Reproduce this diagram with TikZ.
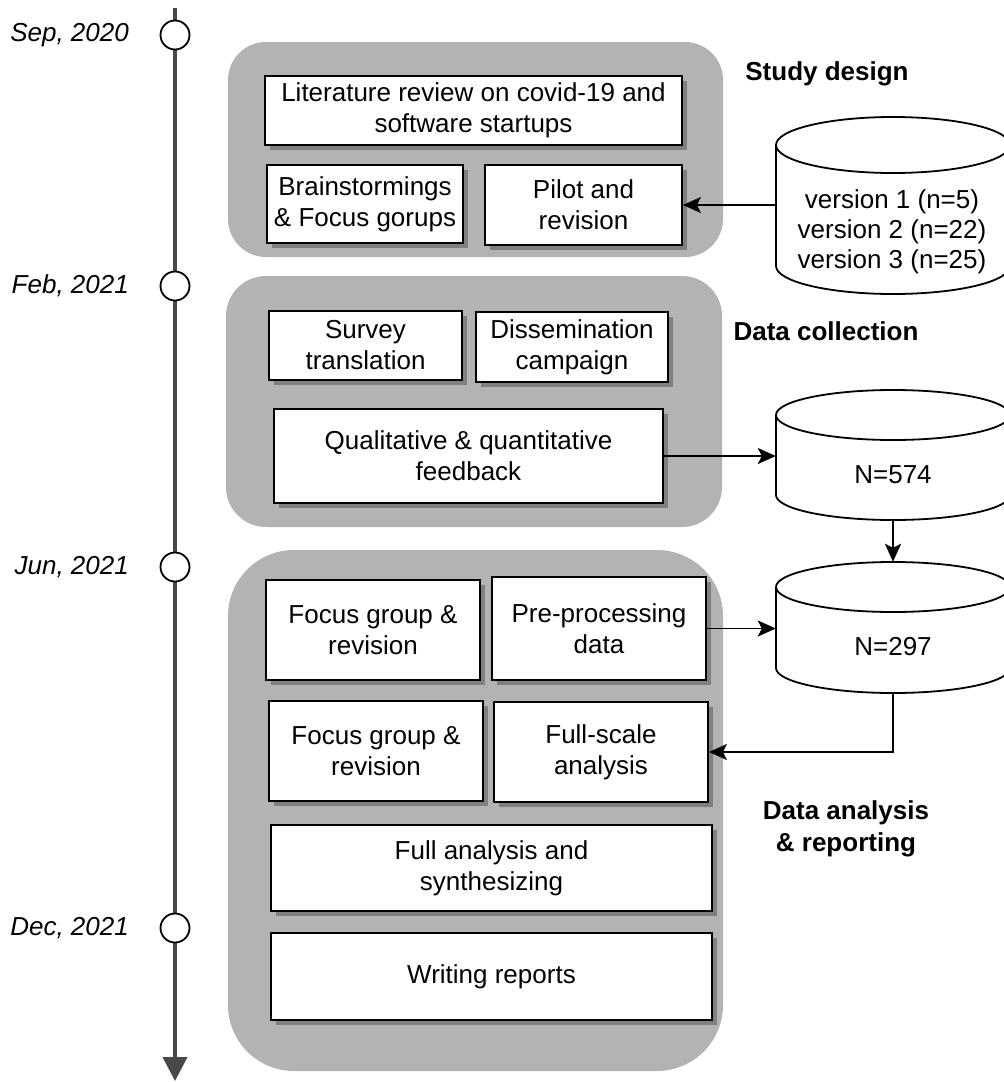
\documentclass[tikz,border=0pt]{standalone}
\usepackage{fontspec}
\setmainfont{Liberation Sans}
\usetikzlibrary{shadows,arrows.meta,calc}
\definecolor{grp}{RGB}{179,179,179}
\definecolor{shd}{RGB}{128,128,128}
\definecolor{tlc}{RGB}{72,72,72}
\newcommand{\mycyl}[6]{% name, cx, ty, by, rx, ry
  \filldraw[cylline] (#2,#4) ellipse [x radius=#5, y radius=#6];
  \fill[white] ({#2-#5},#3) rectangle ({#2+#5},#4);
  \draw[cylline] ({#2-#5},#3) -- ({#2-#5},#4);
  \draw[cylline] ({#2+#5},#3) -- ({#2+#5},#4);
  \filldraw[cylline] (#2,#3) ellipse [x radius=#5, y radius=#6];
  \node[inner sep=0pt, minimum width={2*#5*1pt}, minimum height={(#4-#3+2*#6)*1pt}] (#1) at (#2,{(#3+#4)/2}) {};
}
\begin{document}
\begin{tikzpicture}[x=1pt,y=-1pt,
  box/.style={draw=black, line width=1.8pt, fill=white, align=center, inner sep=2pt,
    font=\fontsize{26}{31}\selectfont,
    drop shadow={shadow xshift=5pt, shadow yshift=-5pt, fill=shd, opacity=1}},
  arr/.style={line width=1.8pt, -{Stealth[length=18pt,width=16pt,inset=4pt]}},
  datelbl/.style={anchor=east, inner sep=0pt, font=\fontsize{26}{30}\selectfont\itshape},
  ttl/.style={font=\fontsize{26}{32}\selectfont\bfseries, align=center},
  tick/.style={circle, draw=black, line width=1.8pt, fill=white, minimum size=29pt, inner sep=0pt},
  cylline/.style={draw=black, line width=1.8pt, fill=white},
  cyltext/.style={align=center, font=\fontsize{26}{30}\selectfont},
  ]
\useasboundingbox (0,0) rectangle (1004,1082);
\clip (0,0) rectangle (1004,1082);

% timeline
\coordinate (tltop) at (175,8);
\coordinate (tlbot) at (175,1081);
\draw[tlc, line width=4pt, -{Triangle[length=24pt,width=24pt]}] (tltop) -- (tlbot);
\node[tick] (t1) at (175,35) {};
\node[tick] (t2) at (175,286) {};
\node[tick] (t3) at (175,567) {};
\node[tick] (t4) at (175,928) {};
\node[datelbl] (d1) at (129,35) {Sep, 2020};
\node[datelbl] (d2) at (129,286) {Feb, 2021};
\node[datelbl] (d3) at (129,567) {Jun, 2021};
\node[datelbl] (d4) at (129,928) {Dec, 2021};

% groups
\fill[grp, rounded corners=38pt] (228,42) rectangle (723,257);
\fill[grp, rounded corners=40pt] (226,276) rectangle (722,527);
\fill[grp, rounded corners=66pt] (228,550) rectangle (723,1071);

% group 1
\node[box, minimum width=417pt, minimum height=69pt] (lit) at (473.5,110.5) {Literature review on covid-19 and\\software startups};
\node[box, minimum width=196pt, minimum height=78pt] (brain) at (365,204) {Brainstormings\\\& Focus gorups};
\node[box, minimum width=197pt, minimum height=80pt] (pilot) at (583.5,205) {Pilot and\\revision};

% group 2
\node[box, minimum width=193pt, minimum height=69pt] (survey) at (365.5,345.5) {Survey\\translation};
\node[box, minimum width=192pt, minimum height=70pt] (dissem) at (572,347) {Dissemination\\campaign};
\node[box, minimum width=389pt, minimum height=94pt] (qual) at (468.5,456) {Qualitative \& quantitative\\feedback};

% group 3
\node[box, minimum width=214pt, minimum height=100pt] (focusa) at (373,630) {Focus group \&\\revision};
\node[box, minimum width=214pt, minimum height=103pt] (prep) at (599,628.5) {Pre-processing\\data};
\node[box, minimum width=214pt, minimum height=100pt] (focusb) at (376,751) {Focus group \&\\revision};
\node[box, minimum width=214pt, minimum height=100pt] (full) at (601,752) {Full-scale\\analysis};
\node[box, minimum width=441pt, minimum height=86pt] (synth) at (491.5,868) {Full analysis and\\synthesizing};
\node[box, minimum width=441pt, minimum height=87pt] (write) at (491.5,976.5) {Writing reports};

% titles
\node[ttl] (st1) at (827,74) {Study design};
\node[ttl] (st2) at (826,331) {Data collection};
\node[ttl] (st3) at (846,829) {Data analysis\\\& reporting};

% cylinders
\mycyl{ca}{893}{145}{266}{117}{28}
\mycyl{cb}{893}{415}{495}{117}{25}
\mycyl{cc}{893}{587}{668}{117}{25}
\node[cyltext] (cat) at (892,232) {version 1 (n=5)\\version 2 (n=22)\\version 3 (n=25)};
\node[cyltext] (cbt) at (893,475) {N=574};
\node[cyltext] (cct) at (893,647) {N=297};

% connectors
\draw[arr] (ca.west |- pilot.east) -- (pilot.east);
\draw[arr] (qual.east) -- (qual.east -| cb.west);
\draw[arr] (cb.south) -- (cc.north);
\draw[arr] (prep.east) -- (prep.east -| cc.west);
\draw[arr] (cc.south) |- (full.east);
\end{tikzpicture}
\end{document}
